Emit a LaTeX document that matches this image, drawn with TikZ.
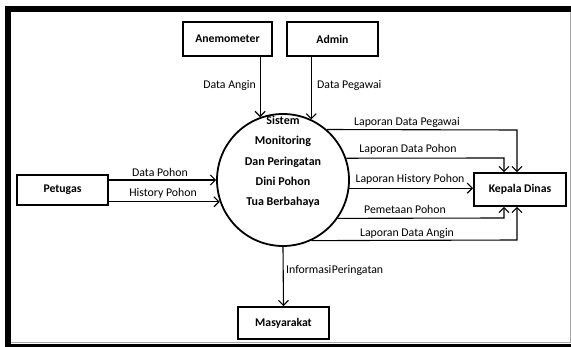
\documentclass[tikz,border=0pt]{standalone}
\usepackage{fontspec}
\setmainfont{Carlito}
\usetikzlibrary{arrows.meta}
\begin{document}
\begin{tikzpicture}[x=1pt,y=-1pt,
  ent/.style={draw,line width=1.8pt,minimum height=32pt,inner sep=0pt,font=\fontsize{11.7}{13}\selectfont\bfseries},
  proc/.style={draw,circle,line width=1.8pt,minimum size=132pt,inner sep=0pt},
  flow/.style={line width=1.1pt,-{Straight Barb[length=5pt,width=10pt,line width=1.1pt]}},
  lbl/.style={font=\fontsize{11.8}{13}\selectfont,inner sep=1pt}]
\useasboundingbox (0,0) rectangle (571,347);
% frame
\fill[black] (5,6) rectangle (571,12);
\fill[black] (5,6) rectangle (11,347);
\fill[black] (5,344) rectangle (571,347);
\draw[gray!70,line width=1pt] (570,12) -- (570,343) -- (11,343);
% entities
\node[ent,minimum width=89pt,minimum height=34pt] (ane) at (227.5,39) {Anemometer};
\node[ent,minimum width=91pt,minimum height=34pt] (adm) at (332.5,39) {Admin};
\node[ent,minimum width=91pt,minimum height=30pt] (pet) at (62.5,190) {Petugas};
\node[ent,minimum width=92pt,minimum height=33pt] (kep) at (520,189.5) {Kepala Dinas};
\node[ent,minimum width=91pt,minimum height=32pt] (mas) at (283.5,323) {Masyarakat};
% process
\node[proc] (sys) at (283,180) {};
\node[font=\fontsize{12}{20.3}\selectfont\bfseries,align=center] (syst) at (283,162) {Sistem\\Monitoring\\Dan Peringatan\\Dini Pohon\\Tua Berbahaya};
% inputs
\draw[flow] (sys.110.4 |- ane.south) -- (sys.110.4);
\node[lbl,anchor=east] (l1) at (257,85) {Data Angin};
\draw[flow] (sys.65.9 |- adm.south) -- (sys.65.9);
\node[lbl,anchor=west] (l2) at (316,85) {Data Pegawai};
\draw[flow] (pet.east |- sys.180) -- (sys.180);
\node[lbl] (l3) at (160,172) {Data Pohon};
\draw[flow] (pet.east |- sys.199.5) -- (sys.199.5);
\node[lbl] (l4) at (163,193) {History Pohon};
% outputs
\coordinate (c1) at (517,130);
\draw[flow] (sys.49.3) -- (c1) -- (c1 |- kep.north);
\node[lbl] (l5) at (407,122) {Laporan Data Pegawai};
\coordinate (c2) at (504,158);
\draw[flow] (sys.19.5) -- (c2) -- (c2 |- kep.north);
\node[lbl] (l6) at (408,149) {Laporan Data Pohon};
\draw[flow] (sys.-7) -- (kep.west |- sys.-7);
\node[lbl] (l7) at (410,179) {Laporan History Pohon};
\coordinate (c3) at (504,218);
\draw[flow] (sys.-35.1) -- (c3) -- (c3 |- kep.south);
\node[lbl] (l8) at (405,209) {Pemetaan Pohon};
\coordinate (c4) at (517,240);
\draw[flow] (sys.-65.4) -- (c4) -- (c4 |- kep.south);
\node[lbl] (l9) at (407,233) {Laporan Data Angin};
% warning
\draw[flow] (sys.south) -- (mas.north);
\node[lbl,anchor=west] (l10) at (285,270) {Informasi\hspace{0.5pt}Peringatan};
\end{tikzpicture}
\end{document}
